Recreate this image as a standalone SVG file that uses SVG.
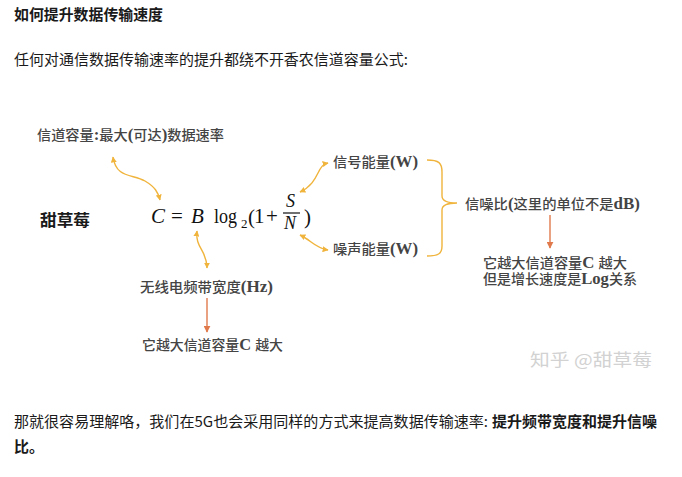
<svg xmlns="http://www.w3.org/2000/svg" width="682" height="477" viewBox="0 0 682 477">
<style>
.body{font-family:"Noto Sans CJK SC","Liberation Sans",sans-serif;font-size:15px;fill:#1a1a1a}
.b{font-weight:bold}
.lbl{font-family:"Liberation Serif","Noto Sans CJK SC",serif;font-size:13.5px;fill:#444444;font-weight:500}
.lat{font-size:16px;font-weight:bold}
.math{font-family:"Liberation Serif",serif;fill:#111111}
.it{font-style:italic}
.yl{fill:none;stroke:#F0B43C;stroke-width:1.4}
.or{fill:none;stroke:#E07A4C;stroke-width:1.4}
</style>
<defs>
<marker id="ay" viewBox="0 0 10 10" refX="9" refY="5" markerWidth="6" markerHeight="6" markerUnits="userSpaceOnUse" orient="auto-start-reverse"><path d="M0,0 L10,5 L0,10 z" fill="#F0B43C"/></marker>
<marker id="ao" viewBox="0 0 10 10" refX="9" refY="5" markerWidth="7" markerHeight="7" markerUnits="userSpaceOnUse" orient="auto"><path d="M0,0 L10,5 L0,10 z" fill="#E07A4C"/></marker>
</defs>
<rect width="682" height="477" fill="#ffffff"/>
<g id="text-top">
<text class="body b" x="14" y="20" textLength="149" lengthAdjust="spacingAndGlyphs">如何提升数据传输速度</text>
<text class="body" x="14" y="65" textLength="394" lengthAdjust="spacingAndGlyphs">任何对通信数据传输速率的提升都绕不开香农信道容量公式:</text>
</g>
<g id="node-capacity"><text class="lbl" x="37" y="140" textLength="187" lengthAdjust="spacingAndGlyphs">信道容量<tspan class="lat">:</tspan>最大<tspan class="lat">(</tspan>可达<tspan class="lat">)</tspan>数据速率</text></g>
<g id="node-author"><text class="body b" x="40" y="226" style="font-size:16px" textLength="50" lengthAdjust="spacingAndGlyphs">甜草莓</text></g>
<g id="node-formula">
<text class="math it" x="151" y="223" font-size="21">C</text>
<text class="math" x="171" y="223" font-size="21">=</text>
<text class="math it" x="191" y="223" font-size="21">B</text>
<text class="math" x="214" y="223" font-size="21" textLength="23" lengthAdjust="spacingAndGlyphs">log</text>
<text class="math" x="241" y="228" font-size="13">2</text>
<text class="math" x="248" y="224" font-size="21">(</text>
<text class="math" x="254" y="223" font-size="21">1</text>
<text class="math" x="266" y="223" font-size="21">+</text>
<text class="math it" x="286" y="207" font-size="18">S</text>
<line x1="283" y1="213" x2="300" y2="213" stroke="#111111" stroke-width="1.2"/>
<text class="math it" x="284" y="229" font-size="18">N</text>
<text class="math" x="304" y="224" font-size="21">)</text>
</g>
<g id="node-signal"><text class="lbl" x="333" y="167" textLength="85" lengthAdjust="spacingAndGlyphs">信号能量<tspan class="lat">(W)</tspan></text></g>
<g id="node-noise"><text class="lbl" x="333" y="254" textLength="85" lengthAdjust="spacingAndGlyphs">噪声能量<tspan class="lat">(W)</tspan></text></g>
<g id="node-snr"><text class="lbl" x="465" y="209" textLength="175" lengthAdjust="spacingAndGlyphs">信噪比<tspan class="lat">(</tspan>这里的单位不是<tspan class="lat">dB)</tspan></text></g>
<g id="node-snr-note">
<text class="lbl" x="483" y="268" textLength="144" lengthAdjust="spacingAndGlyphs">它越大信道容量<tspan class="lat">C </tspan>越大</text>
<text class="lbl" x="483" y="284" textLength="154" lengthAdjust="spacingAndGlyphs">但是增长速度是<tspan class="lat">Log</tspan>关系</text>
</g>
<g id="node-bandwidth"><text class="lbl" x="140" y="292" textLength="133" lengthAdjust="spacingAndGlyphs">无线电频带宽度<tspan class="lat">(Hz)</tspan></text></g>
<g id="node-bw-note"><text class="lbl" x="142" y="350" textLength="141" lengthAdjust="spacingAndGlyphs">它越大信道容量<tspan class="lat">C </tspan>越大</text></g>
<g id="watermark"><text x="530" y="366" font-family="'Noto Sans CJK SC',sans-serif" font-size="17" fill="#d2d2d2" textLength="122" lengthAdjust="spacingAndGlyphs">知乎 @甜草莓</text></g>
<g id="connectors">
<path class="yl" d="M113,157 C116,178 132,174 145,181 C155,187 158,192 160,200" marker-start="url(#ay)" marker-end="url(#ay)"/>
<path class="yl" d="M197,231 C195,248 207,250 207,268" marker-start="url(#ay)" marker-end="url(#ay)"/>
<path class="yl" d="M300,192 C311,187 315,179 318,173 C321,167 323,164 328,163" marker-start="url(#ay)" marker-end="url(#ay)"/>
<path class="yl" d="M300,235 C311,240 315,248 328,250" marker-start="url(#ay)" marker-end="url(#ay)"/>
<path class="yl" d="M427,160 C439,160 442,163 442,172 L442,196 C442,201 447,203 457,203 C447,203 442,205 442,210 L442,246 C442,254 438,256 427,256"/>
<path class="or" d="M550,215 L550,248" marker-end="url(#ao)"/>
<path class="or" d="M207,298 L207,332" marker-end="url(#ao)"/>
</g>
<g id="text-bottom">
<text class="body" x="14" y="427" textLength="474" lengthAdjust="spacingAndGlyphs">那就很容易理解咯，我们在5G也会采用同样的方式来提高数据传输速率:</text>
<text class="body b" x="492" y="427" textLength="165" lengthAdjust="spacingAndGlyphs">提升频带宽度和提升信噪</text>
<text class="body b" x="14" y="452">比。</text>
</g>
</svg>
